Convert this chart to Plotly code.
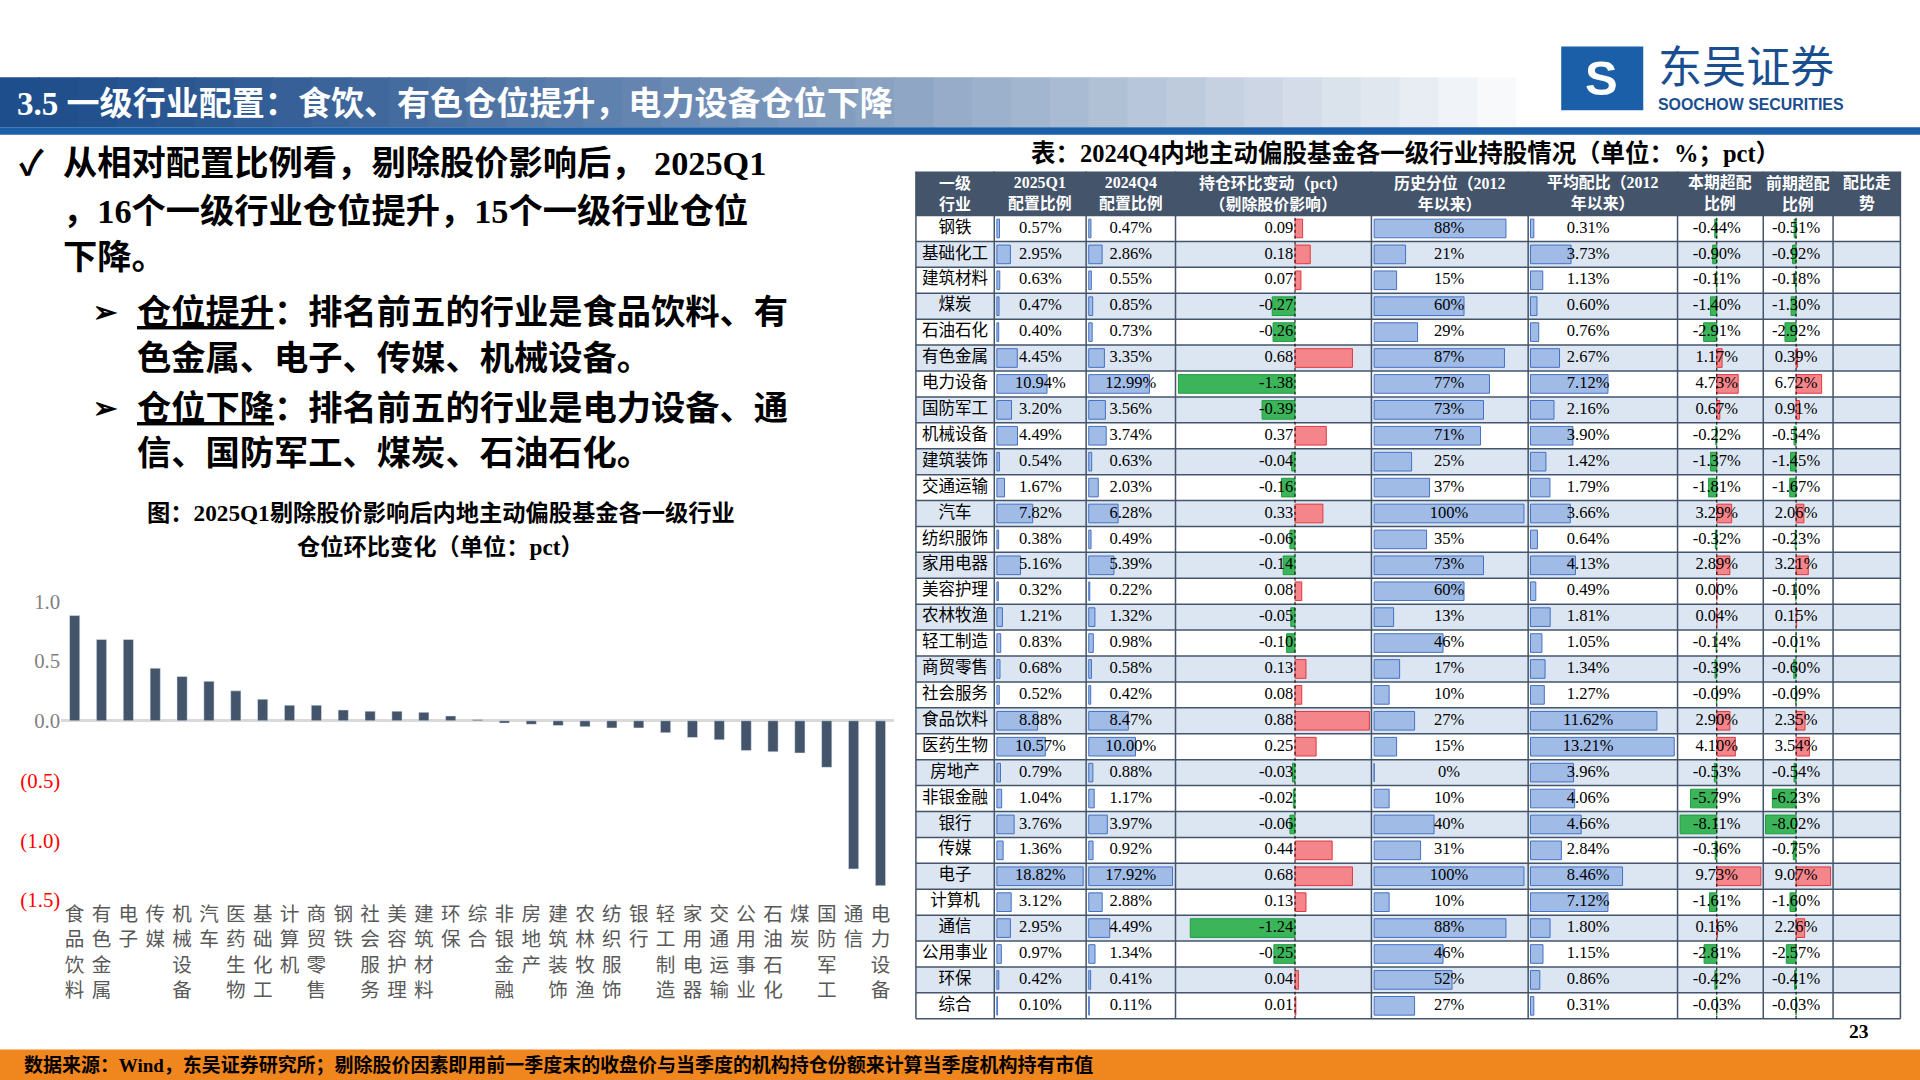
import plotly.graph_objects as go

W, H = 1568, 882   # drawing units (source slide), scaled to 1920x1080
S = 1920 / W
def X(x): return x / W
def Y(y): return 1 - y / H

SERIF = "Liberation Serif, Noto Sans CJK SC"

# ---------- data ----------
bar_cats = ["食品饮料", "有色金属", "电子", "传媒", "机械设备", "汽车", "医药生物", "基础化工", "计算机",
            "商贸零售", "钢铁", "社会服务", "美容护理", "建筑材料", "环保", "综合", "非银金融", "房地产",
            "建筑装饰", "农林牧渔", "纺织服饰", "银行", "轻工制造", "家用电器", "交通运输", "公用事业",
            "石油石化", "煤炭", "国防军工", "通信", "电力设备"]
bar_vals = [0.88, 0.68, 0.68, 0.44, 0.37, 0.33, 0.25, 0.18, 0.13, 0.13, 0.09, 0.08, 0.08, 0.07, 0.04, 0.01,
            -0.02, -0.03, -0.04, -0.05, -0.06, -0.06, -0.10, -0.14, -0.16, -0.25, -0.26, -0.27, -0.39,
            -1.24, -1.38]

industries = ["钢铁", "基础化工", "建筑材料", "煤炭", "石油石化", "有色金属", "电力设备", "国防军工", "机械设备",
              "建筑装饰", "交通运输", "汽车", "纺织服饰", "家用电器", "美容护理", "农林牧渔", "轻工制造",
              "商贸零售", "社会服务", "食品饮料", "医药生物", "房地产", "非银金融", "银行", "传媒", "电子",
              "计算机", "通信", "公用事业", "环保", "综合"]
w_2025q1 = [0.57, 2.95, 0.63, 0.47, 0.40, 4.45, 10.94, 3.20, 4.49, 0.54, 1.67, 7.82, 0.38, 5.16, 0.32, 1.21,
            0.83, 0.68, 0.52, 8.88, 10.57, 0.79, 1.04, 3.76, 1.36, 18.82, 3.12, 2.95, 0.97, 0.42, 0.10]
w_2024q4 = [0.47, 2.86, 0.55, 0.85, 0.73, 3.35, 12.99, 3.56, 3.74, 0.63, 2.03, 6.28, 0.49, 5.39, 0.22, 1.32,
            0.98, 0.58, 0.42, 8.47, 10.00, 0.88, 1.17, 3.97, 0.92, 17.92, 2.88, 4.49, 1.34, 0.41, 0.11]
chg = [0.09, 0.18, 0.07, -0.27, -0.26, 0.68, -1.38, -0.39, 0.37, -0.04, -0.16, 0.33, -0.06, -0.14, 0.08, -0.05,
       -0.10, 0.13, 0.08, 0.88, 0.25, -0.03, -0.02, -0.06, 0.44, 0.68, 0.13, -1.24, -0.25, 0.04, 0.01]
hist_pct = [88, 21, 15, 60, 29, 87, 77, 73, 71, 25, 37, 100, 35, 73, 60, 13, 46, 17, 10, 27, 15, 0, 10, 40, 31,
            100, 10, 88, 46, 52, 27]
avg_w = [0.31, 3.73, 1.13, 0.60, 0.76, 2.67, 7.12, 2.16, 3.90, 1.42, 1.79, 3.66, 0.64, 4.13, 0.49, 1.81, 1.05,
         1.34, 1.27, 11.62, 13.21, 3.96, 4.06, 4.66, 2.84, 8.46, 7.12, 1.80, 1.15, 0.86, 0.31]
over_now = [-0.44, -0.90, -0.11, -1.40, -2.91, 1.17, 4.73, 0.67, -0.22, -1.37, -1.81, 3.29, -0.32, 2.89, 0.00,
            0.04, -0.14, -0.39, -0.09, 2.90, 4.10, -0.53, -5.79, -8.11, -0.36, 9.73, -1.61, 0.16, -2.81, -0.42,
            -0.03]
over_prev = [-0.51, -0.92, -0.18, -1.30, -2.92, 0.39, 6.72, 0.91, -0.54, -1.45, -1.67, 2.06, -0.23, 3.21, -0.10,
             0.15, -0.01, -0.60, -0.09, 2.35, 3.54, -0.54, -6.23, -8.02, -0.75, 9.07, -1.60, 2.26, -2.57, -0.41,
             -0.03]
headers = ["一级<br>行业", "2025Q1<br>配置比例", "2024Q4<br>配置比例", "持仓环比变动（pct）<br>（剔除股价影响）",
           "历史分位（2012<br>年以来）", "平均配比（2012<br>年以来）", "本期超配<br>比例", "前期超配<br>比例", "配比走<br>势"]

fig = go.Figure()
shapes, ann = [], []

def rect(x0, y0, x1, y1, color, line=None):
    shapes.append(dict(type="rect", xref="paper", yref="paper", x0=X(x0), x1=X(x1), y0=Y(y1), y1=Y(y0),
                       fillcolor=color, line=dict(width=0 if line is None else 1, color=line or color),
                       layer="below"))

def text(x, y, t, size, color="black", anchor="left", bold=True, font=SERIF):
    ann.append(dict(x=X(x), y=Y(y), xref="paper", yref="paper", text=("<b>%s</b>" % t) if bold else t,
                    showarrow=False, xanchor=anchor, yanchor="middle",
                    font=dict(size=size * S, color=color, family=font)))

# ---------- header ----------
n = 40
for i in range(n):
    t = i / (n - 1)
    r = int(31 + (255 - 31) * t ** 1.3); g = int(78 + (255 - 78) * t ** 1.3); b = int(140 + (255 - 140) * t ** 1.3)
    rect(1270 * i / n, 63, 1270 * (i + 1) / n + 1, 104, "rgb(%d,%d,%d)" % (r, g, b))
rect(0, 104, W, 110, "#1a5fa8")
text(12, 85, "3.5 一级行业配置：食饮、有色仓位提升，电力设备仓位下降", 27, "white")
rect(1275, 38, 1342, 90, "#1a5fa8")
text(1308, 64, "S", 40, "white", "center", font="Arial")
text(1352, 52, "东吴证券", 36, "#1a4e8f", bold=False, font="Noto Sans CJK SC")
text(1352, 85, "SOOCHOW SECURITIES", 13, "#1a4e8f", font="Arial")

# ---------- left text ----------
text(14, 133, "✓", 28)
text(50, 133, "从相对配置比例看，剔除股价影响后， 2025Q1", 28)
text(50, 172, "，16个一级行业仓位提升，15个一级行业仓位", 28)
text(50, 210, "下降。", 28)
text(74, 255, "➢", 24)
text(110, 255, "<span style='text-decoration:underline'>仓位提升</span>：排名前五的行业是食品饮料、有", 28)
text(110, 292, "色金属、电子、传媒、机械设备。", 28)
text(74, 333, "➢", 24)
text(110, 333, "<span style='text-decoration:underline'>仓位下降</span>：排名前五的行业是电力设备、通", 28)
text(110, 370, "信、国防军工、煤炭、石油石化。", 28)
text(360, 419, "图：2025Q1剔除股价影响后内地主动偏股基金各一级行业", 19, anchor="center")
text(360, 447, "仓位环比变化（单位：pct）", 19, anchor="center")

# ---------- bar chart ----------
fig.add_trace(go.Bar(x=bar_cats, y=bar_vals, marker_color="#44546a", xaxis="x", yaxis="y",
                     showlegend=False))
neg = "<span style='color:red'>%s</span>"
layout_axes = dict(
    xaxis=dict(domain=[X(50), X(730)], anchor="y", tickmode="array", tickvals=bar_cats, automargin=False,
               ticktext=["<br>".join(c) for c in bar_cats], showline=False, ticks="",
               tickfont=dict(size=16 * S, color="#595959", family=SERIF), tickangle=0, showgrid=False),
    yaxis=dict(domain=[Y(735), Y(491)], range=[-1.5, 1.0], tickvals=[1, 0.5, 0, -0.5, -1, -1.5],
               ticktext=["1.0", "0.5", "0.0", neg % "(0.5)", neg % "(1.0)", neg % "(1.5)"], automargin=False,
               tickfont=dict(size=17 * S, color="#7f7f7f", family=SERIF), showgrid=False,
               zeroline=True, zerolinecolor="#d9d9d9", zerolinewidth=2.5, anchor="x"),
)

# ---------- table ----------
text(1148, 125, "表：2024Q4内地主动偏股基金各一级行业持股情况（单位：%；pct）", 20, anchor="center")
cols = [748, 812, 887, 960, 1120, 1248, 1370, 1440, 1497, 1552]
top, hdr, bot = 140, 176, 832
nr = len(industries)
rh = (bot - hdr) / nr
rect(cols[0], top, cols[-1], hdr, "#44546a")
for j, h in enumerate(headers):
    ann.append(dict(x=X((cols[j] + cols[j + 1]) / 2), y=Y((top + hdr) / 2), xref="paper", yref="paper",
                    xanchor="center", yanchor="middle", text="<b>%s</b>" % h, showarrow=False,
                    font=dict(size=13 * S, color="white", family=SERIF)))
for i in range(nr):
    y0 = hdr + i * rh
    rect(cols[0], y0, cols[-1], y0 + rh, "#dce6f2" if i % 2 else "white")
    shapes.append(dict(type="line", xref="paper", yref="paper", x0=X(cols[0]), x1=X(cols[-1]),
                       y0=Y(y0), y1=Y(y0), line=dict(color="#44546a", width=1.5)))
for c in cols:
    shapes.append(dict(type="line", xref="paper", yref="paper", x0=X(c), x1=X(c), y0=Y(top), y1=Y(bot),
                       line=dict(color="#44546a", width=1.5)))
shapes.append(dict(type="line", xref="paper", yref="paper", x0=X(cols[0]), x1=X(cols[-1]),
                   y0=Y(bot), y1=Y(bot), line=dict(color="#44546a", width=1.5)))

rows = list(range(nr))
layout_axes["yaxis2"] = dict(domain=[Y(bot), Y(hdr)], range=[nr - 0.5, -0.5], visible=False, anchor="x2",
                             automargin=False)

# col spec: values, range, bar?, text x, text anchor, fmt, diverging
specs = [
    (industries, [0, 1], False, 0.5, "middle center", None, False),
    (w_2025q1, [-0.3, 19.2], True, 9.5, "middle center", "%.2f%%", False),
    (w_2024q4, [-0.3, 18.3], True, 9.0, "middle center", "%.2f%%", False),
    (chg, [-1.40, 0.89], True, -0.02, "middle left", "%.2f", True),
    (hist_pct, [-1, 102], True, 50, "middle center", "%d%%", False),
    (avg_w, [-0.1, 13.4], True, 5.3, "middle center", "%.2f%%", False),
    (over_now, [-8.4, 10.0], True, 0, "middle center", "%.2f%%", True),
    (over_prev, [-8.3, 9.4], True, 0, "middle center", "%.2f%%", True),
]
for k, (vals, rng, has_bar, tx, tpos, fmt, div) in enumerate(specs):
    ax = k + 2
    xa, xn = "x%d" % ax, "xaxis%d" % ax
    layout_axes[xn] = dict(domain=[X(cols[k] + 1), X(cols[k + 1] - 1)], range=rng, visible=False,
                           anchor="y2", automargin=False)
    if has_bar:
        if div:
            colors = ["#f4858a" if v >= 0 else "#3cb55a" for v in vals]
            lines = ["#e0393f" if v >= 0 else "#1f9d3f" for v in vals]
        else:
            colors, lines = "#9fbbe6", "#4472c4"
        fig.add_trace(go.Bar(x=vals, y=rows, orientation="h", xaxis=xa, yaxis="y2", width=0.72,
                             marker=dict(color=colors, line=dict(color=lines, width=1)), showlegend=False))
        if div:
            shapes.append(dict(type="line", xref=xa, yref="y2 domain", x0=0, x1=0, y0=0, y1=1,
                               line=dict(color="black", width=1, dash="dot")))
        labels = [fmt % v for v in vals]
    else:
        labels = vals
    fig.add_trace(go.Scatter(x=[tx] * nr, y=rows, mode="text", text=labels, textposition=tpos,
                             xaxis=xa, yaxis="y2", showlegend=False,
                             textfont=dict(size=13.5 * S, color="black", family=SERIF)))

# ---------- footer ----------
rect(0, 857, W, H, "#f0861e")
text(18, 870, "数据来源：Wind，东吴证券研究所；剔除股价因素即用前一季度末的收盘价与当季度的机构持仓份额来计算当季度机构持有市值",
     15.5)
text(1518, 842, "23", 16, anchor="center")

fig.update_layout(width=1920, height=1080, margin=dict(l=0, r=0, t=0, b=0, autoexpand=False),
                  plot_bgcolor="white", paper_bgcolor="white", bargap=0.62, shapes=shapes, annotations=ann,
                  **layout_axes)
fig.write_html("out.html", config={"displayModeBar": False},
               post_script="document.body.style.margin='0';")
